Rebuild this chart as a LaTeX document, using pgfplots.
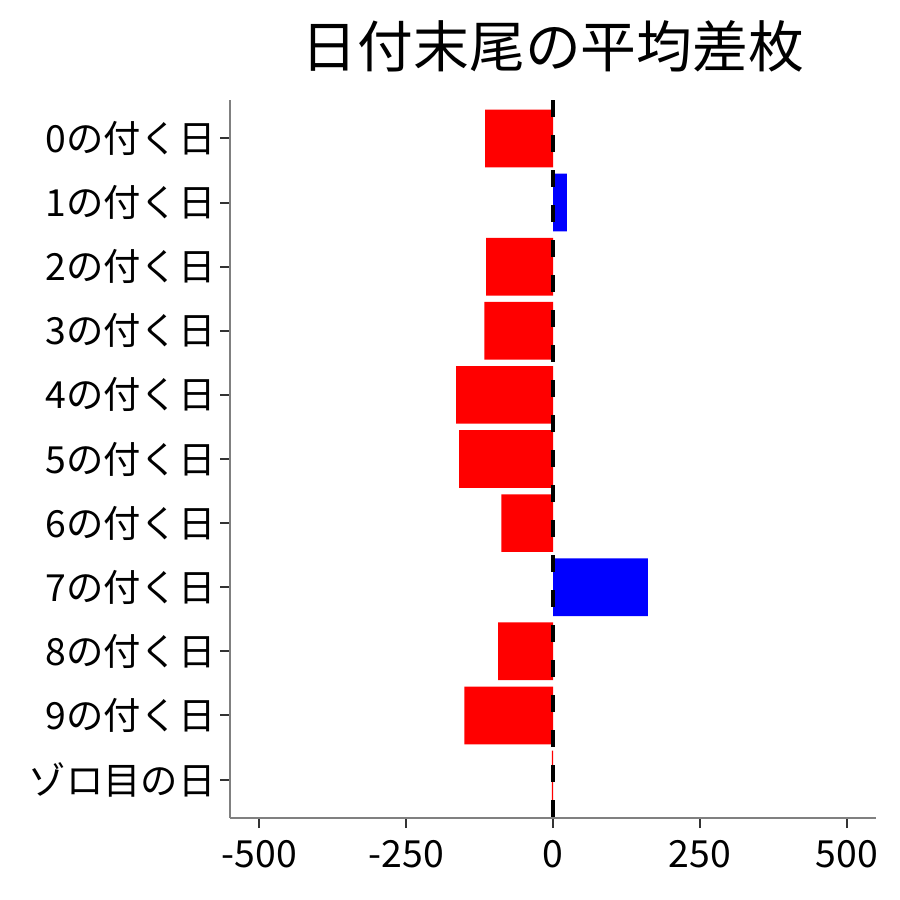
\documentclass[border=0pt]{standalone}
\usepackage{pgfplots}
\pgfplotsset{compat=1.18}
\usepackage{fontspec}
\setmainfont{Noto Sans CJK JP}

\definecolor{barneg}{rgb}{1,0,0}
\definecolor{barpos}{rgb}{0,0,1}
\definecolor{axisgrey}{rgb}{0.5,0.5,0.5}
\definecolor{tickgrey}{rgb}{0.2,0.2,0.2}

\begin{document}
\begin{tikzpicture}
\path[use as bounding box] (0,0) rectangle (900bp,900bp);
\begin{axis}[
at={(230bp,82bp)},
anchor=south west,
scale only axis,
width=646bp,
height=718bp,
xmin=-550, xmax=550,
ymin=-0.6, ymax=10.6,
y dir=reverse,
axis x line*=bottom,
axis y line*=left,
axis line style={axisgrey, line width=1.2bp},
tick align=outside,
major tick length=10bp,
tick style={tickgrey, line width=2bp},
xtick={-500,-250,0,250,500},
xticklabels={-500,-250,0,250,500},
ytick={0,1,2,3,4,5,6,7,8,9,10},
yticklabels={0の付く日,1の付く日,2の付く日,3の付く日,4の付く日,5の付く日,6の付く日,7の付く日,8の付く日,9の付く日,ゾロ目の日},
ticklabel style={font=\fontsize{37.5}{45}\selectfont, black},
xticklabel style={yshift=-9bp},
yticklabel style={xshift=-1bp},
/pgf/number format/assume math mode=true,
xbar,
bar width=0.9,
clip=false,
title={日付末尾の平均差枚},
title style={font=\fontsize{56}{67}\selectfont, at={(0.5,1)}, anchor=south, yshift=18bp},
]
% negative days
\addplot [fill=barneg, draw=none, bar shift=0pt]
table {%
-115.5 0
-114 2
-117 3
-165 4
-160 5
-88 6
-93.5 8
-151 9
-2 10
};
% positive days
\addplot [fill=barpos, draw=none, bar shift=0pt]
table {%
23.5 1
161.5 7
};
% zero line
\addplot [black, line width=4bp, dash pattern=on 17bp off 18bp, xbar=false, sharp plot]
coordinates {(0,-0.6) (0,10.6)};
\end{axis}
\end{tikzpicture}
\end{document}
